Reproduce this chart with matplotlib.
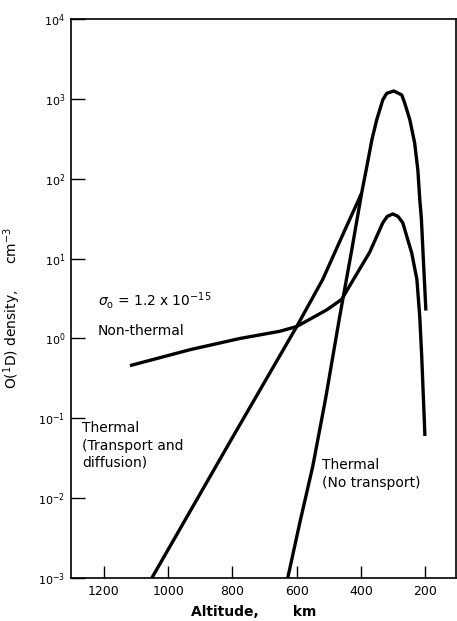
import matplotlib
matplotlib.use('Agg')
from matplotlib import pyplot as plt
import numpy as np

# altitude (km) and log10 density (cm^-3)
alt_no_transport = [628, 590, 550, 510, 466, 430, 398, 382, 366, 351, 332, 320, 298,
                    273, 264, 248, 233, 223, 217, 212, 206, 201, 198]
log_no_transport = [-3.0, -2.3, -1.6, -0.75, 0.28, 1.08, 1.82, 2.15, 2.49, 2.74, 2.99, 3.07, 3.10,
                    3.05, 2.95, 2.74, 2.45, 2.11, 1.74, 1.5, 1.0, 0.6, 0.35]

alt_transport = [1051, 800, 600, 519, 450, 398]
log_transport = [-3.0, -1.24, 0.15, 0.74, 1.36, 1.82]

alt_nonthermal = [1119, 932, 777, 653, 600, 506, 460, 444, 410, 373, 332, 318, 301, 285,
                  270, 242, 226, 217, 211, 201]
log_nonthermal = [-0.34, -0.14, 0.0, 0.09, 0.15, 0.36, 0.49, 0.6, 0.83, 1.08, 1.45, 1.53, 1.56, 1.53,
                  1.45, 1.07, 0.74, 0.27, -0.22, -1.22]

x_ticks = [1200, 1000, 800, 600, 400, 200]
y_ticks = [1e-3, 1e-2, 1e-1, 1e0, 1e1, 1e2, 1e3, 1e4]
y_ticklabels = [r'$10^{-3}$', r'$10^{-2}$', r'$10^{-1}$', r'$10^{0}$',
                r'$10^{1}$', r'$10^{2}$', r'$10^{3}$', r'$10^{4}$']

plt.rcParams['font.family'] = 'DejaVu Sans'
fig = plt.figure(figsize=(4.57, 6.21), dpi=100)
ax = fig.add_axes([0.155, 0.0692, 0.843, 0.9])

for alt, logv in [(alt_no_transport, log_no_transport),
                  (alt_transport, log_transport),
                  (alt_nonthermal, log_nonthermal)]:
    ax.plot(alt, 10 ** np.array(logv), color='black', lw=2.4,
            solid_capstyle='butt', solid_joinstyle='round')

ax.set_yscale('log')
ax.set_ylim(1e-3, 1e4)
ax.set_xlim(1303, 104)
ax.set_yticks(y_ticks)
ax.set_yticklabels(y_ticklabels)
ax.set_xticks(x_ticks)
ax.set_xticklabels([str(t) for t in x_ticks])
ax.minorticks_off()
ax.tick_params(axis='both', direction='in', width=1.0, color='black')
ax.tick_params(axis='y', length=10, labelsize=8, pad=4)
ax.tick_params(axis='x', length=9, labelsize=9, pad=5)
for sp in ax.spines.values():
    sp.set_linewidth(1.2)

ax.set_xlabel('Altitude,       km', fontsize=10, fontweight='bold')
ax.xaxis.set_label_coords(0.475, -0.048)
ax.set_ylabel(r'O($^1$D) density,      cm$^{-3}$', fontsize=10)
ax.yaxis.set_label_coords(-0.125, 0.483)

ax.text(0.07, 0.497, r'$\sigma_{\rm o}$ = 1.2 x 10$^{-15}$', transform=ax.transAxes,
        fontsize=10, va='center', ha='left')
ax.text(0.07, 0.442, 'Non-thermal', transform=ax.transAxes, fontsize=10, va='center', ha='left')
ax.text(0.029, 0.268, 'Thermal', transform=ax.transAxes, fontsize=10, va='center', ha='left')
ax.text(0.029, 0.237, '(Transport and', transform=ax.transAxes, fontsize=10, va='center', ha='left')
ax.text(0.029, 0.206, 'diffusion)', transform=ax.transAxes, fontsize=10, va='center', ha='left')
ax.text(0.652, 0.202, 'Thermal', transform=ax.transAxes, fontsize=10, va='center', ha='left')
ax.text(0.652, 0.170, '(No transport)', transform=ax.transAxes, fontsize=10, va='center', ha='left')

fig.savefig('out.png', dpi=100)
